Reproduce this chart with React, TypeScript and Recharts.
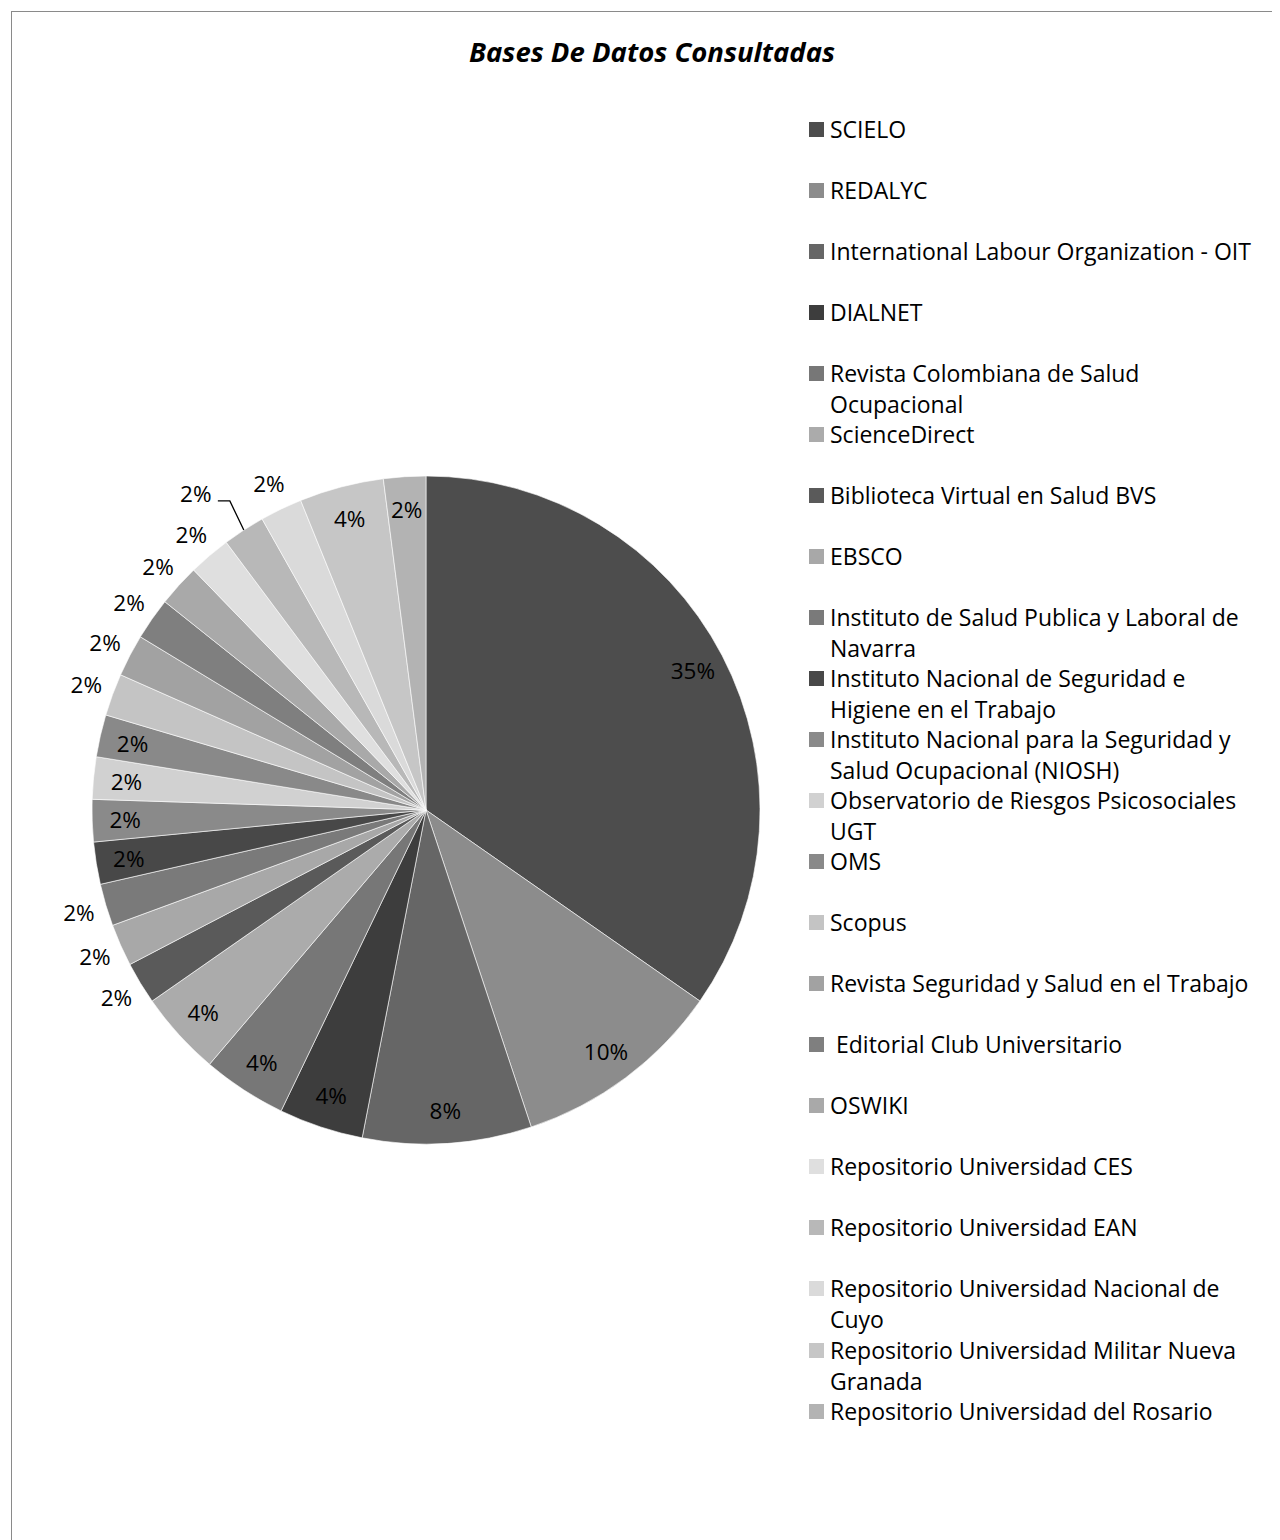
import React from "react";
import { PieChart, Pie, Cell, Legend } from "recharts";

const CATEGORIES = [
  "SCIELO",
  "REDALYC",
  "International Labour Organization - OIT",
  "DIALNET",
  "Revista Colombiana de Salud Ocupacional",
  "ScienceDirect",
  "Biblioteca Virtual en Salud BVS",
  "EBSCO",
  "Instituto de Salud Publica y Laboral de Navarra",
  "Instituto Nacional de Seguridad e Higiene en el Trabajo",
  "Instituto Nacional para la Seguridad y Salud Ocupacional (NIOSH)",
  "Observatorio de Riesgos Psicosociales UGT",
  "OMS",
  "Scopus",
  "Revista Seguridad y Salud en el Trabajo",
  " Editorial Club Universitario",
  "OSWIKI",
  "Repositorio Universidad CES",
  "Repositorio Universidad EAN",
  "Repositorio Universidad Nacional de Cuyo",
  "Repositorio Universidad Militar Nueva Granada",
  "Repositorio Universidad del Rosario",
];

const COUNTS = [17, 5, 4, 2, 2, 2, 1, 1, 1, 1, 1, 1, 1, 1, 1, 1, 1, 1, 1, 1, 2, 1];

const SHADES = [
  "#4d4d4d", "#8c8c8c", "#666666", "#3d3d3d", "#777777", "#ababab",
  "#5a5a5a", "#a8a8a8", "#7a7a7a", "#484848", "#8a8a8a", "#d1d1d1",
  "#898989", "#c4c4c4", "#a2a2a2", "#7f7f7f", "#a9a9a9", "#dfdfdf",
  "#b8b8b8", "#dadada", "#c6c6c6", "#b3b3b3",
];

// slices whose label sits outside the pie (Excel "best fit")
const OUTSIDE_LABELS = [6, 7, 8, 13, 14, 15, 16, 17, 18, 19];
const LEADER_LABELS = [18];

const data = CATEGORIES.map((name, i) => ({ name, value: COUNTS[i] }));

const FONT = "'Open Sans', sans-serif";
const RADIAN = Math.PI / 180;

const renderLabel = (props: any) => {
  const { cx, cy, midAngle, outerRadius, percent, index } = props;
  const outside = OUTSIDE_LABELS.includes(index);
  const leader = LEADER_LABELS.includes(index);
  const r = leader ? outerRadius + 57 : outside ? outerRadius + 28 : outerRadius - 33;
  const a = (midAngle + (leader ? 3 : 0)) * RADIAN;
  const x = cx + r * Math.cos(-a);
  const y = cy + r * Math.sin(-a);
  const txt = Math.round(percent * 100) + "%";
  let line = null;
  if (leader) {
    const ex = cx + outerRadius * Math.cos(-midAngle * RADIAN);
    const ey = cy + outerRadius * Math.sin(-midAngle * RADIAN);
    line = (
      <polyline
        points={`${ex},${ey} ${x + 34},${y + 7} ${x + 22},${y + 7}`}
        fill="none"
        stroke="#000"
        strokeWidth={1.3}
      />
    );
  }
  return (
    <g>
      {line}
      <text
        x={x}
        y={y}
        textAnchor="middle"
        dominantBaseline="central"
        fill="#000"
        style={{ fontFamily: FONT, fontSize: 22.5 }}
      >
        {txt}
      </text>
    </g>
  );
};

// legend keeps the series order (recharts would sort it by name)
const renderLegend = () => (
  <div style={{ position: "relative", width: 460, height: 1340 }}>
    {CATEGORIES.map((name, i) => (
      <div
        key={i}
        style={{
          position: "absolute",
          left: 0,
          top: i * 61.05,
          display: "flex",
          alignItems: "flex-start",
        }}
      >
        <div
          style={{
            width: 15,
            height: 15,
            marginTop: 8,
            background: SHADES[i],
            flexShrink: 0,
          }}
        />
        <div
          style={{
            marginLeft: 6,
            width: 432,
            fontFamily: FONT,
            fontSize: 23,
            lineHeight: "31px",
            color: "#000",
            whiteSpace: "pre-wrap",
          }}
        >
          {name}
        </div>
      </div>
    ))}
  </div>
);

export default function App() {
  return (
    <div style={{ position: "relative", width: 1272, height: 1532, overflow: "hidden", background: "#fff" }}>
      <div
        style={{
          position: "absolute",
          left: 3,
          top: 3,
          width: 1400,
          height: 1700,
          borderTop: "1.5px solid #8a8a8a",
          borderLeft: "1.5px solid #8a8a8a",
        }}
      />
      <div
        style={{
          position: "absolute",
          left: 0,
          width: 1288,
          top: 26,
          textAlign: "center",
          fontFamily: FONT,
          fontSize: 27.5,
          fontWeight: "bold",
          fontStyle: "italic",
          lineHeight: "36px",
        }}
      >
        Bases De Datos Consultadas
      </div>
      <div style={{ position: "absolute", left: 0, top: 0 }}>
        <PieChart width={1272} height={1532}>
          <Pie
            data={data}
            dataKey="value"
            nameKey="name"
            cx={413}
            cy={797}
            outerRadius={334}
            startAngle={90}
            endAngle={-270}
            stroke="#ffffff"
            strokeWidth={0.6}
            label={renderLabel}
            labelLine={false}
            isAnimationActive={false}
          >
            {data.map((_, i) => (
              <Cell key={i} fill={SHADES[i]} />
            ))}
          </Pie>
          <Legend
            content={renderLegend}
            wrapperStyle={{ position: "absolute", left: 801, top: 105.5, width: 460 }}
          />
        </PieChart>
      </div>
    </div>
  );
}
